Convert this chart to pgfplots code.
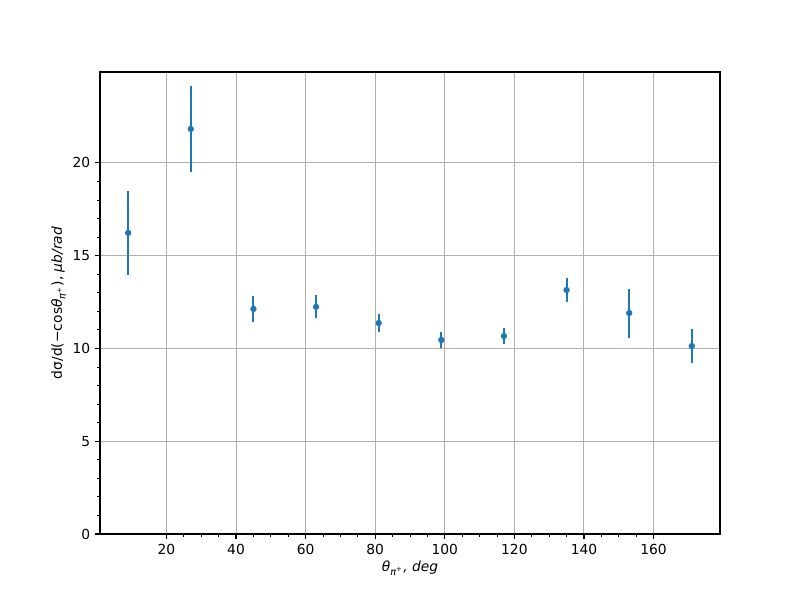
\documentclass[border=0pt]{standalone}
\usepackage{pgfplots}
\pgfplotsset{compat=1.18}
\usepackage{fontspec}
\setmainfont{DejaVu Sans}
\definecolor{mplblue}{HTML}{1F77B4}
\definecolor{gridgray}{HTML}{B0B0B0}
\begin{document}
\begin{tikzpicture}[x=1in,y=1in]
\path[use as bounding box] (0,0) rectangle (8,6);
\begin{axis}[
  at={(1in,0.66in)}, anchor=south west,
  scale only axis, width=6.2in, height=4.62in,
  xmin=0.9, xmax=179.1, ymin=0, ymax=24.9,
  xtick={20,40,...,160}, ytick={0,5,...,20},
  minor x tick num=3, minor y tick num=4,
  grid=major,
  major grid style={gridgray, line width=0.7pt},
  tick align=outside, tick pos=left,
  major tick length=3.5pt, minor tick length=2pt,
  every tick/.style={black, line width=0.8pt},
  minor tick style={black, line width=0.6pt},
  axis line style={line width=0.8pt},
  /pgf/number format/assume math mode=true,
  ticklabel style={font=\fontsize{10}{12}\selectfont},
  label style={font=\fontsize{10}{12}\selectfont},
  xlabel={{\itshape θ\textsubscript{π\textsuperscript{+}}, deg}},
  ylabel={dσ/d(−cos{\itshape θ}\textsubscript{\itshape π\textsuperscript{+}}), {\itshape μb/rad}},
  xlabel style={yshift=2pt},
  ylabel style={yshift=-2pt},
]
\addplot[mplblue, only marks, mark=*, mark size=1.5pt, line width=1.5pt,
  error bars/.cd, y dir=both, y explicit, error mark=none,
  error bar style={mplblue, line width=1.5pt}]
  table[x=x, y=y, y error=e] {
x y e
9 16.23 2.26
27 21.83 2.32
45 12.13 0.72
63 12.24 0.62
81 11.37 0.50
99 10.46 0.43
117 10.67 0.45
135 13.15 0.65
153 11.91 1.32
171 10.13 0.94
};
\end{axis}
\end{tikzpicture}
\end{document}
